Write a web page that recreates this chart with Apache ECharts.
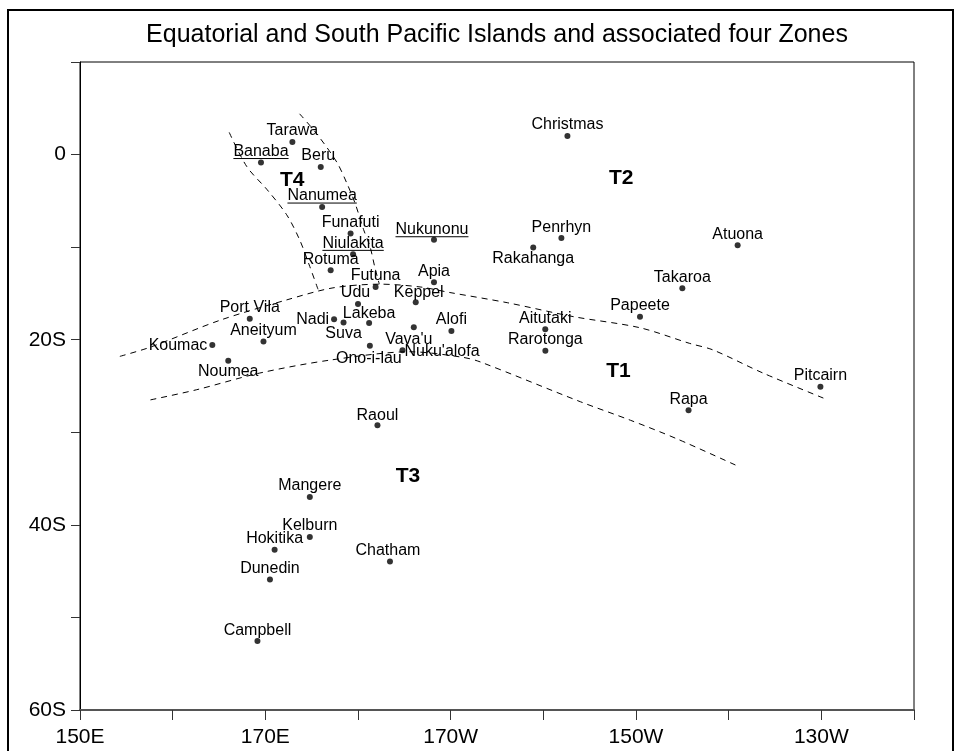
<!DOCTYPE html>
<html><head><meta charset="utf-8">
<script src="https://cdn.jsdelivr.net/npm/echarts@6/dist/echarts.min.js"></script>
<style>html,body{margin:0;padding:0;background:#fff}#chart{width:955px;height:751px}</style>
</head><body><div id="chart"></div>
<script>
// ---------- DATA ----------
const islandNames = ["Tarawa","Banaba","Beru","Nanumea","Funafuti","Niulakita","Rotuma","Nukunonu","Futuna","Udu","Apia","Keppel","Port Vila","Aneityum","Koumac","Noumea","Nadi","Lakeba","Suva","Ono-i-lau","Vava'u","Nuku'alofa","Alofi","Christmas","Penrhyn","Rakahanga","Atuona","Takaroa","Papeete","Aitutaki","Rarotonga","Rapa","Pitcairn","Raoul","Mangere","Kelburn","Hokitika","Chatham","Dunedin","Campbell"];
// longitude in degrees east (0-360), latitude (negative = south)
const islandLon = [172.92,169.53,175.98,176.13,179.2,179.47,177.05,188.2,181.9,180.0,188.2,186.23,168.32,169.8,164.28,166.0,177.42,181.2,178.44,181.28,186.02,184.8,190.08,202.6,201.95,198.91,220.97,215.0,210.43,200.21,200.22,215.67,229.9,182.1,174.8,174.8,171.0,183.45,170.5,169.15];
const islandLat = [1.35,-0.86,-1.33,-5.67,-8.52,-10.78,-12.5,-9.2,-14.3,-16.13,-13.8,-15.95,-17.73,-20.2,-20.56,-22.27,-17.8,-18.2,-18.14,-20.65,-18.65,-21.14,-19.06,2.0,-9.0,-10.03,-9.8,-14.45,-17.53,-18.86,-21.2,-27.62,-25.07,-29.25,-37.0,-41.3,-42.7,-43.95,-45.9,-52.55];
const underlinedIslands = ["Banaba","Nanumea","Niulakita","Nukunonu"];

const zoneNames = ["T1","T2","T3","T4"];
const zoneLon = [208.1,208.4,185.4,172.9];
const zoneLat = [-23.4,-2.5,-34.7,-2.75];

// zone boundary lines
const boundaryALon = [166.1,168.0,170.2,172.3,173.7,174.8,175.7];
const boundaryALat = [2.4,-1.3,-3.8,-6.5,-9.2,-12.1,-14.6];
const boundaryBLon = [173.7,175.5,177.7,178.8,179.7,180.6,181.3,181.8,182.3];
const boundaryBLat = [4.4,2.3,-0.8,-3.1,-5.3,-8.1,-9.95,-12.1,-14.0];
const boundaryCLon = [154.3,157.6,165.1,172.3,177.3,182.4,186.7,189.9,196.1,203.2,210.4,215.8,218.3,223.7,230.7];
const boundaryCLat = [-21.8,-20.8,-17.9,-15.7,-14.4,-14.0,-14.3,-14.9,-16.0,-17.5,-18.7,-20.4,-21.1,-23.6,-26.5];
const boundaryDLon = [157.6,162.6,169.4,177.0,185.6,191.3,193.2,204.0,209.4,214.4,221.2];
const boundaryDLat = [-26.5,-25.4,-23.6,-22.2,-21.3,-21.9,-22.4,-26.7,-28.7,-30.7,-33.75];

const xTickLabels = {150:"150E",170:"170E",190:"170W",210:"150W",230:"130W"};
const yTickLabels = {"0":"0","-20":"20S","-40":"40S","-60":"60S"};
const titleText = "Equatorial and South Pacific Islands and associated four Zones";

// ---------- STYLE (label placement, px offsets from the dot) ----------
const FONT_FAMILY = "'Liberation Sans', Arial, Helvetica, sans-serif";
const LABEL_FONT = "16px " + FONT_FAMILY;
const defaultPlacement = [0, -11, "center"];
const labelPlacement = {
  "Beru":[-2.5,-11,"center"], "Nukunonu":[-2,-10,"center"], "Udu":[-2.5,-11,"center"],
  "Keppel":[3,-10,"center"], "Koumac":[-5,1,"right"], "Noumea":[0,11,"center"],
  "Nadi":[-5,0,"right"], "Lakeba":[0,-9,"center"], "Suva":[0,11,"center"],
  "Ono-i-lau":[-1,12.5,"center"], "Vava'u":[-5,12,"center"], "Nuku'alofa":[2,1,"left"],
  "Rakahanga":[0,11,"center"], "Raoul":[0,-9.5,"center"], "Chatham":[-2,-10.5,"center"],
  "Campbell":[0,-10,"center"], "Penrhyn":[0,-10,"center"]
};

const measureCtx = document.createElement("canvas").getContext("2d");
function textWidth(t, font){ measureCtx.font = font; return measureCtx.measureText(t).width; }

const chart = echarts.init(document.getElementById("chart"), null, {renderer:"canvas"});

function boundarySeries(lons, lats){
  return {
    type:"line", data: lons.map((x,i)=>[x, lats[i]]), showSymbol:false, symbol:"none",
    smooth:0.3, silent:true, z:2,
    lineStyle:{color:"#000", width:1, type:[6,5]}
  };
}

const option = {
  animation:false,
  backgroundColor:"#fff",
  grid:{left:80, top:62, right:41, bottom:41, show:true, borderColor:"#000", borderWidth:1, containLabel:false},
  xAxis:{
    type:"value", min:150, max:240, interval:10,
    axisLine:{onZero:false, lineStyle:{color:"#555", width:2}},
    axisTick:{show:true, length:10, lineStyle:{color:"#333", width:1}},
    axisLabel:{margin:17, color:"#000", fontSize:21, fontFamily:FONT_FAMILY,
      formatter:v => xTickLabels[Math.round(v)] || ""},
    splitLine:{show:false}
  },
  yAxis:{
    type:"value", min:-60, max:10, interval:10,
    axisLine:{onZero:false, lineStyle:{color:"#000", width:1}},
    axisTick:{show:true, length:9, lineStyle:{color:"#333", width:1}},
    axisLabel:{margin:14, color:"#000", fontSize:21, fontFamily:FONT_FAMILY,
      formatter:v => { const k = String(Math.round(v)); return (k in yTickLabels) ? yTickLabels[k] : ""; }},
    splitLine:{show:false}
  },
  graphic:[
    {type:"rect", shape:{x:8, y:10, width:945, height:770}, style:{fill:"none", stroke:"#000", lineWidth:2}, silent:true, z:100},
    {type:"text", style:{x:497, y:35, text:titleText, font:"25px " + FONT_FAMILY, fill:"#000", align:"center", verticalAlign:"middle"}, silent:true}
  ],
  series:[
    boundarySeries(boundaryALon, boundaryALat),
    boundarySeries(boundaryBLon, boundaryBLat),
    boundarySeries(boundaryCLon, boundaryCLat),
    boundarySeries(boundaryDLon, boundaryDLat),
    {
      type:"scatter", data: islandLon.map((x,i)=>[x, islandLat[i]]),
      symbol:"circle", symbolSize:6, itemStyle:{color:"#000"}, z:4, silent:true
    },
    {
      type:"custom", data: islandLon.map((x,i)=>[x, islandLat[i]]), z:5, silent:true,
      renderItem:function(params, api){
        const i = params.dataIndex;
        const p = api.coord([api.value(0), api.value(1)]);
        const name = islandNames[i];
        const pl = labelPlacement[name] || defaultPlacement;
        const align = pl[2];
        const tx = p[0] + pl[0], ty = p[1] + pl[1];
        const children = [{type:"text", style:{x:tx, y:ty, text:name, font:LABEL_FONT, fill:"#000", align:align, verticalAlign:"middle"}}];
        if (underlinedIslands.indexOf(name) >= 0) {
          const w = textWidth(name, LABEL_FONT);
          const x0 = align === "center" ? tx - w/2 : (align === "right" ? tx - w : tx);
          children.push({type:"line", shape:{x1:x0, y1:ty+7, x2:x0+w, y2:ty+7}, style:{stroke:"#000", lineWidth:1}});
        }
        return {type:"group", children:children};
      }
    },
    {
      type:"custom", data: zoneLon.map((x,i)=>[x, zoneLat[i]]), z:5, silent:true,
      renderItem:function(params, api){
        const p = api.coord([api.value(0), api.value(1)]);
        return {type:"text", style:{x:p[0], y:p[1], text:zoneNames[params.dataIndex], font:"bold 21px " + FONT_FAMILY, fill:"#000", align:"center", verticalAlign:"middle"}};
      }
    }
  ]
};
chart.setOption(option);
</script>
</body></html>
